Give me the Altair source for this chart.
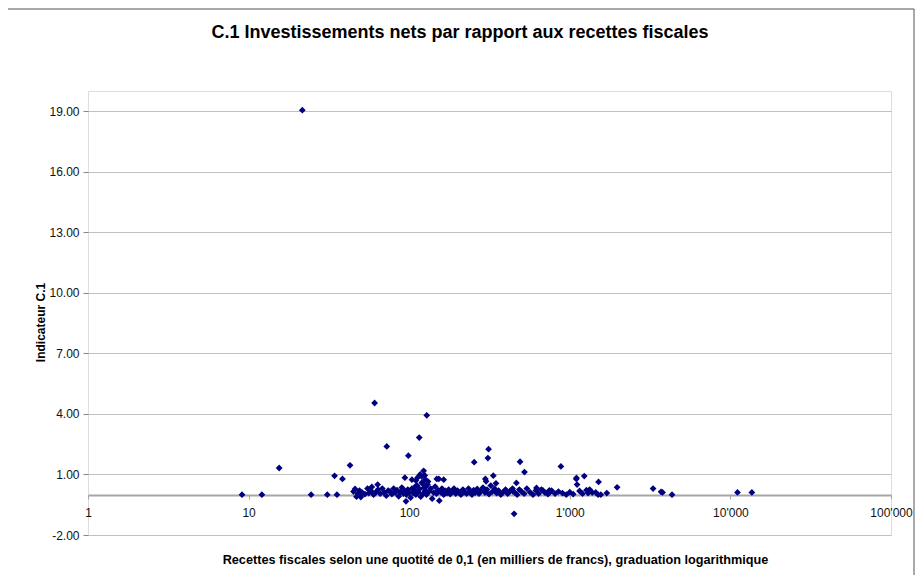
import altair as alt
import pandas as pd

# Recettes fiscales (milliers de francs) and indicator C.1
recettes = [
    21.6, 60.9, 72.5, 98.8, 115.5, 128.6, 15.5, 42.8, 34.3, 38.4,
    9.1, 12.1, 24.5, 30.9, 35.5, 94.0, 95.5, 63.6, 58.5, 312.0,
    309.0, 254.0, 490.0, 522.0, 880.0, 450.0, 1098.0, 1110.0, 1230.0, 123.0,
    119.5, 104.0, 148.5, 164.0, 298.0, 334.0, 347.0, 301.0, 465.0, 442.0,
    620.0, 680.0, 750.0, 153.0, 1100.0, 1510.0, 1970.0, 3300.0, 3700.0, 3780.0,
    4330.0, 11070.0, 13600.0, 1700.0, 1560.0, 1450.0, 1330.0, 1300.0, 745.0,
    45, 46, 47, 48, 49, 50, 51, 53, 55, 56,
    58, 60, 62, 64, 66, 68, 70, 72, 74, 76,
    78, 80, 82, 84, 86, 88, 90, 92, 94, 96,
    98, 100, 102, 104, 106, 108, 110, 112, 114, 116,
    118, 120, 122, 124, 126, 128, 130, 133, 136, 139,
    142, 145, 148, 151, 154, 157, 160, 164, 168, 172,
    176, 180, 185, 190, 195, 200, 205, 210, 216, 222,
    228, 234, 240, 246, 252, 258, 265, 272, 280, 288,
    296, 305, 314, 322, 330, 340, 350, 360, 372, 385,
    398, 410, 425, 440, 455, 470, 485, 500, 520, 540,
    565, 590, 615, 640, 665, 700, 730, 770, 810, 850,
    900, 950, 1000, 1050, 1150, 1200, 1270, 1380, 1500,
    110, 113, 117, 121, 125, 127, 131, 109, 107, 126,
]
indicateur = [
    19.05, 4.54, 2.39, 1.93, 2.83, 3.93, 1.32, 1.45, 0.93, 0.78,
    0.00, 0.00, 0.00, 0.00, 0.00, 0.84, -0.33, 0.50, 0.38, 2.25,
    1.81, 1.61, 1.63, 1.12, 1.40, -0.95, 0.78, 0.50, 0.92, 1.18,
    0.91, 0.74, 0.78, 0.74, 0.78, 0.94, 0.56, 0.66, 0.58, 0.16,
    0.33, 0.21, 0.11, 0.78, 0.83, 0.63, 0.36, 0.30, 0.14, 0.11,
    0.00, 0.11, 0.11, 0.08, 0.00, 0.11, 0.25, 0.08, 0.21,
    0.15, 0.28, -0.10, 0.05, 0.20, -0.12, 0.10, 0.02, 0.30, 0.08,
    0.18, 0.00, 0.12, 0.25, 0.05, 0.30, 0.10, -0.05, 0.20, 0.15,
    0.02, 0.30, 0.10, 0.22, -0.08, 0.12, 0.35, 0.05, 0.18, 0.00,
    0.25, 0.10, -0.15, 0.30, 0.08, 0.20, 0.00, 0.45, 0.12, 0.28,
    -0.10, 0.60, 0.05, 0.35, 0.20, 0.00, 0.50, 0.15, 0.30, -0.20,
    0.10, 0.40, 0.05, 0.22, -0.30, 0.12, 0.30, 0.00, 0.18, 0.08,
    0.25, 0.02, 0.15, 0.30, 0.05, 0.20, 0.10, 0.00, 0.25, 0.12,
    0.05, 0.30, 0.15, 0.00, 0.22, 0.10, 0.28, 0.05, 0.18, 0.35,
    0.10, 0.25, 0.02, 0.45, 0.15, 0.30, 0.08, 0.20, 0.00, 0.12,
    0.25, 0.05, 0.18, 0.30, 0.10, 0.00, 0.25, 0.15, 0.05, 0.30,
    0.12, 0.00, 0.20, 0.05, 0.25, 0.10, 0.02, 0.20, 0.05, 0.15,
    0.08, 0.00, 0.12, 0.02, 0.18, 0.05, 0.22, 0.10, 0.00,
    0.70, 0.85, 1.00, 0.55, 0.95, 0.40, 0.65, 0.40, 0.25, 0.75,
]

title_text = ["C.1 Investissements nets par rapport aux recettes fiscales"]

df = pd.DataFrame({"recettes": recettes, "indicateur": indicateur})

x_ticks = [1, 10, 100, 1000, 10000, 100000]
y_ticks = [-2, 1, 4, 7, 10, 13, 16, 19]

W, H = 803, 444

x_scale = alt.Scale(type="log", domain=[1, 100000], nice=False)
y_scale = alt.Scale(domain=[-2, 20], nice=False, zero=False)

points = alt.Chart(df).mark_point(
    shape="diamond", filled=True, size=46, color="#000080", opacity=1
).encode(
    x=alt.X("recettes:Q", scale=x_scale,
            axis=alt.Axis(
                values=x_ticks, grid=False, offset=-40,
                labelExpr="replace(format(datum.value, ','), ',', \"'\")",
                labelFlush=False, labelFontSize=12, labelColor="#111111",
                labelFont="Liberation Sans", labelPadding=8,
                domainColor="#a6a6a6", domainWidth=2,
                tickColor="#a6a6a6", tickSize=4,
                title="Recettes fiscales selon une quotité de 0,1 (en milliers de francs), graduation logarithmique",
                titleFont="Liberation Sans", titleFontSize=12.7, titleFontWeight="bold",
                titleColor="#000000", titleX=407, titleY=64,
                titleAlign="center", titleBaseline="middle",
            )),
    y=alt.Y("indicateur:Q", scale=y_scale,
            axis=alt.Axis(
                values=y_ticks,
                labelExpr="datum.value < 0 ? '-' + format(-datum.value, '.2f') : format(datum.value, '.2f')",
                grid=True, gridColor="#c0c0c0", gridWidth=1,
                domain=False, tickColor="#888888", tickSize=5,
                labelFontSize=12, labelColor="#111111",
                labelFont="Liberation Sans", labelPadding=4,
                title="Indicateur C.1",
                titleFont="Liberation Sans", titleFontSize=12, titleFontWeight="bold",
                titleColor="#000000", titleX=-48, titleY=231,
                titleAngle=-90, titleAlign="center", titleBaseline="middle",
            )),
)

title_df = pd.DataFrame({"t": title_text})
title = alt.Chart(title_df).mark_text(
    font="Liberation Sans", fontSize=18, fontWeight="bold", color="#000000",
    align="center", baseline="middle"
).encode(text="t:N", x=alt.value(372), y=alt.value(-58))

frame_df = pd.DataFrame({"k": [0]})
frame = alt.Chart(frame_df).mark_rect(
    fill="transparent", stroke="#555555", strokeWidth=1
).encode(
    x=alt.value(-81), x2=alt.value(826),
    y=alt.value(-82), y2=alt.value(520),
)

chart = alt.layer(frame, title, points).properties(
    width=W, height=H,
    autosize=alt.AutoSizeParams(type="none"),
    padding={"left": 80, "top": 83, "right": 24, "bottom": 40},
).configure_view(
    stroke="#8c8c8c", strokeWidth=1
).configure(background="white")

chart.save("out.html", embed_options={"renderer": "svg", "actions": False})
